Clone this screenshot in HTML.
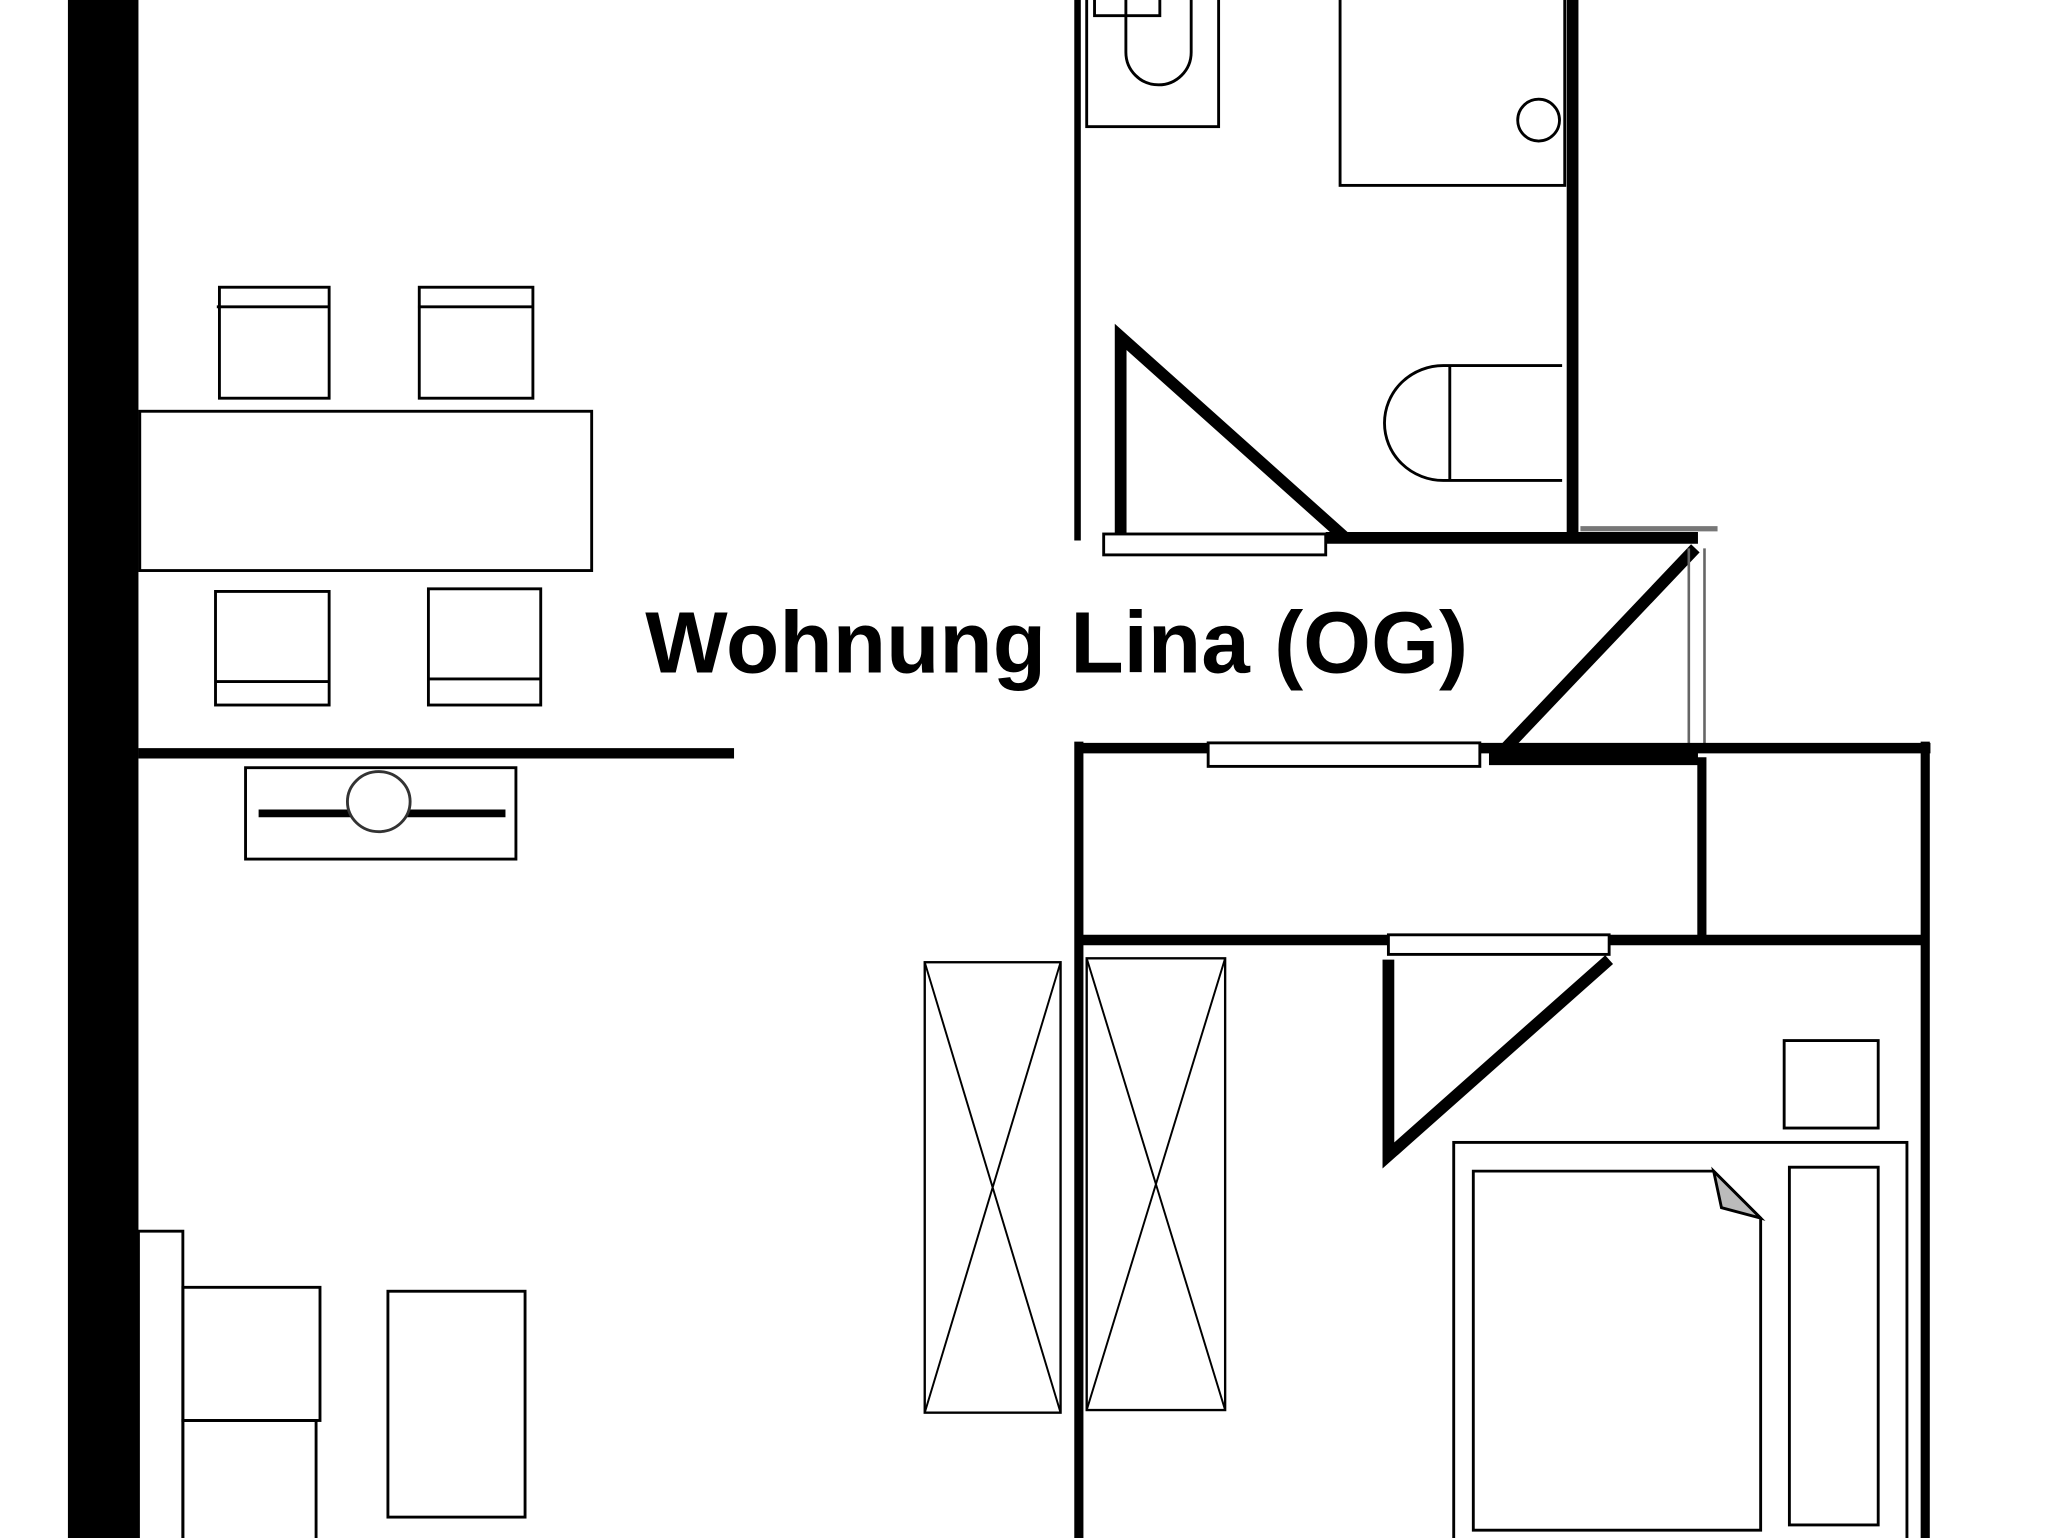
<!DOCTYPE html>
<html><head><meta charset="utf-8"><style>html,body{margin:0;padding:0;background:#fff}svg{display:block}</style></head>
<body>
<svg width="2048" height="1538" viewBox="0 0 1568 1178" preserveAspectRatio="none" xmlns="http://www.w3.org/2000/svg">
<rect width="1568" height="1178" fill="#fff"/>
<g fill="none" stroke="#000" stroke-width="2.2">
<!-- left wall -->
<rect x="52" y="0" width="54" height="1178" fill="#000" stroke="none"/>
<!-- chairs top -->
<rect x="168" y="220" width="84" height="85"/><line x1="166" y1="235" x2="252" y2="235"/>
<rect x="321" y="220" width="87" height="85"/><line x1="320" y1="235" x2="408" y2="235"/>
<!-- table -->
<rect x="107" y="315" width="346" height="122"/>
<!-- chairs bottom -->
<rect x="165" y="453" width="87" height="87"/><line x1="165" y1="522" x2="252" y2="522"/>
<rect x="328" y="451" width="86" height="89"/><line x1="328" y1="520" x2="414" y2="520"/>
<!-- partition wall -->
<line x1="106" y1="577" x2="562" y2="577" stroke-width="8"/>
<!-- tv unit -->
<rect x="188" y="588" width="207" height="70"/>
<line x1="198" y1="623" x2="387" y2="623" stroke-width="6"/>
<ellipse cx="290" cy="614" rx="24" ry="23" fill="#fff" stroke="#333"/>
<!-- bottom left furniture -->
<rect x="106" y="943" width="34" height="240"/>
<rect x="140" y="986" width="105" height="102"/>
<rect x="140" y="1088" width="102" height="95"/>
<rect x="297" y="989" width="105" height="173"/>
<!-- wardrobes -->
<rect x="708" y="737" width="104" height="345" stroke-width="1.8"/>
<path d="M708 737 L812 1082 M812 737 L708 1082" stroke-width="1.5"/>
<rect x="832" y="734" width="106" height="346" stroke-width="1.8"/>
<path d="M832 734 L938 1080 M938 734 L832 1080" stroke-width="1.5"/>
<!-- bathroom -->
<line x1="825" y1="0" x2="825" y2="414" stroke-width="5"/>
<rect x="832" y="-2" width="101" height="99"/>
<rect x="838" y="-2" width="50" height="14"/>
<path d="M862 0 V40 A25 25 0 0 0 912 40 V0"/>
<rect x="1026" y="-2" width="172" height="144"/>
<circle cx="1178" cy="92" r="16"/>
<line x1="1204" y1="0" x2="1204" y2="414" stroke-width="9"/>
<path d="M1196 280 H1105 A45 44 0 0 0 1105 368 H1196"/>
<line x1="1110" y1="281" x2="1110" y2="368"/>
<!-- bath door -->
<path d="M858 412 V258 L1030 412" stroke-width="9"/>
<rect x="845" y="409" width="170" height="16" fill="#fff"/>
<line x1="1015" y1="412" x2="1300" y2="412" stroke-width="9"/>
<line x1="1210" y1="405" x2="1315" y2="405" stroke="#777" stroke-width="4"/>
<!-- hall door -->
<line x1="1298" y1="420" x2="1148" y2="578" stroke-width="9"/>
<line x1="1293" y1="420" x2="1293" y2="575" stroke="#666" stroke-width="2"/>
<line x1="1305" y1="420" x2="1305" y2="575" stroke="#666" stroke-width="2"/>
<!-- walls middle -->
<line x1="826" y1="573" x2="1478" y2="573" stroke-width="8"/>
<line x1="1140" y1="579" x2="1300" y2="579" stroke-width="14"/>
<rect x="925" y="569" width="208" height="18" fill="#fff"/>
<line x1="826" y1="568" x2="826" y2="1178" stroke-width="7"/>
<line x1="1303" y1="580" x2="1303" y2="718" stroke-width="7"/>
<line x1="1474" y1="568" x2="1474" y2="1178" stroke-width="7"/>
<line x1="826" y1="720" x2="1474" y2="720" stroke-width="8"/>
<rect x="1063" y="716" width="169" height="15" fill="#fff"/>
<!-- bedroom door -->
<path d="M1063 735 V885 L1232 735" stroke-width="9"/>
<!-- bedroom -->
<rect x="1366" y="797" width="72" height="67"/>
<rect x="1113" y="875" width="347" height="310"/>
<path d="M1128 1172 V897 H1312 L1348 933 V1172 Z"/>
<path d="M1312 897 L1318 925 L1348 933 Z" fill="#bbb"/>
<rect x="1370" y="894" width="68" height="274"/>
</g>
<text x="494" y="515" font-family="Liberation Sans, Arial, sans-serif" font-weight="bold" font-size="66.5" fill="#000" textLength="630" lengthAdjust="spacingAndGlyphs">Wohnung Lina (OG)</text>
</svg>
</body></html>
